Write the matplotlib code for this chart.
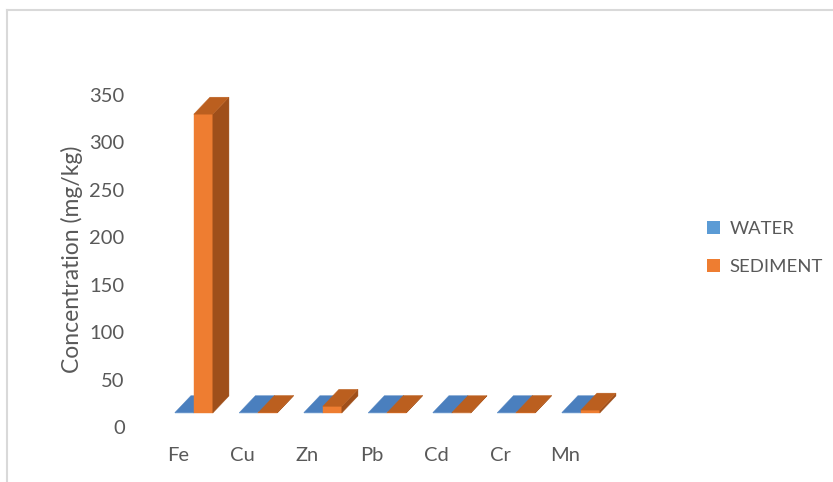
import matplotlib
matplotlib.use("Agg")
import matplotlib.pyplot as plt
from matplotlib.patches import Polygon, Patch
from matplotlib.lines import Line2D

metals = ["Fe", "Cu", "Zn", "Pb", "Cd", "Cr", "Mn"]
water = [0.3, 0.3, 0.3, 0.3, 0.3, 0.3, 0.3]
sediment = [315, 0.5, 7, 0.5, 0.3, 0.5, 3]
yticks = [0, 50, 100, 150, 200, 250, 300, 350]

txt = "#595959"
plt.rcParams['font.family'] = ['Lato', 'DejaVu Sans']

fig = plt.figure(figsize=(8.33, 4.82), dpi=100)
W, H = 833, 482
# axes box in pixels: x 140..660, y 60..440 (from top)
ax = fig.add_axes([140 / W, (H - 440) / H, 520 / W, 380 / H])
ppu = (427 - 95) / 350.0          # pixels per value unit
pcat = 64.5                        # pixels per category
ax.set_ylim(-(440 - 427) / ppu, 350 + (95 - 60) / ppu)
ax.set_xlim((140 - 178) / pcat, (660 - 178) / pcat)

# pseudo-3d geometry
floor = 14.8       # front base of bars, value units
bw = 0.295         # bar width, category units
dx = 0.25          # depth offset x
dy = 17.9          # depth offset y
x0 = -0.05

faces = {
    "water": ("#5b9bd5", "#4a7fbe", "#3e6ea6"),
    "sediment": ("#ee7d31", "#bb5f1f", "#9f4f1a"),
}


def bar(x, h, cols):
    front, top, side = cols
    b = floor
    t = floor + h
    ax.add_patch(Polygon([(x, b), (x + bw, b), (x + bw, t), (x, t)],
                         closed=True, fc=front, ec=front, lw=0.3))
    ax.add_patch(Polygon([(x + bw, b), (x + bw + dx, b + dy),
                          (x + bw + dx, t + dy), (x + bw, t)],
                         closed=True, fc=side, ec=side, lw=0.3))
    ax.add_patch(Polygon([(x, t), (x + bw, t), (x + bw + dx, t + dy),
                          (x + dx, t + dy)],
                         closed=True, fc=top, ec=top, lw=0.3))


for i in range(len(metals)):
    bar(i + x0, water[i], faces["water"])
    bar(i + x0 + bw, sediment[i], faces["sediment"])

ax.set_yticks(yticks)
ax.set_xticks(range(len(metals)))
ax.set_xticklabels(metals)
ax.tick_params(axis='y', length=0, pad=11, labelsize=14.5, labelcolor=txt)
ax.tick_params(axis='x', length=0, pad=5, labelsize=14.5, labelcolor=txt)
for s in ax.spines.values():
    s.set_visible(False)
ax.patch.set_alpha(0)

fig.text(72 / W, 1 - 259 / H, "Concentration (mg/kg)", rotation=90,
         ha='center', va='center', fontsize=16.5, color=txt)

handles = [Patch(fc=faces["water"][0], ec='none'),
           Patch(fc=faces["sediment"][0], ec='none')]
fig.legend(handles, ["WATER", "SEDIMENT"], loc='center left',
           bbox_to_anchor=(690 / W, 1 - 248 / H), frameon=False,
           fontsize=13.3, labelcolor=txt, handlelength=0.7,
           handleheight=0.7, handletextpad=0.55, labelspacing=1.15)

# chart area border
fig.add_artist(Line2D([6.5 / W, 6.5 / W], [0, 1 - 9.5 / H], color="#d9d9d9",
                      lw=1.5, transform=fig.transFigure))
fig.add_artist(Line2D([6.5 / W, 1], [1 - 9.5 / H, 1 - 9.5 / H],
                      color="#d9d9d9", lw=1.5, transform=fig.transFigure))

fig.savefig("out.png", dpi=100)
